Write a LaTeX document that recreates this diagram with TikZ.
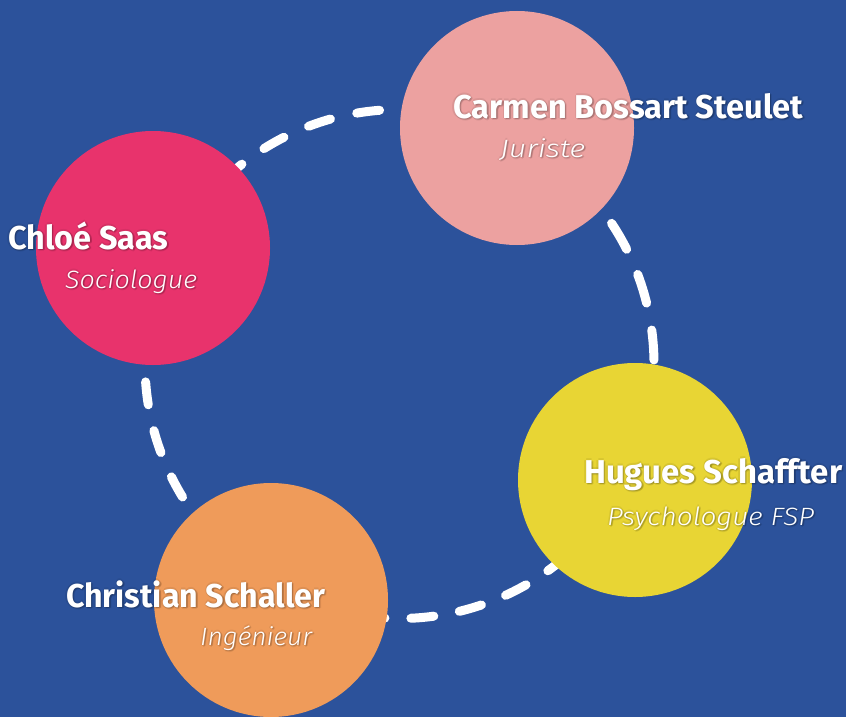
\documentclass[tikz,border=0pt]{standalone}
\usepackage{fontspec}
\setmainfont{Fira Sans}[BoldFont={Fira Sans Bold},ItalicFont={Fira Sans Light Italic}]
\usepackage{graphicx}
\definecolor{bg}{HTML}{2C529B}
\definecolor{cpink}{HTML}{E8336C}
\definecolor{csalmon}{HTML}{ECA1A0}
\definecolor{cyellow}{HTML}{E8D534}
\definecolor{corange}{HTML}{EF9B5A}
\newcommand{\fitw}[2]{\resizebox{#1}{\height}{#2}}
% \plabel{name}{style}{position}{width}{text}: soft dark glow, then the white text
\newcommand{\plabel}[5]{%
  \foreach \dx/\dy in {-1.5/0,1.5/0,0/-1.5,0/1.5,1/2,2/1,1.5/1.5}{%
    \node[#2, shadowlbl] at ($#3+(\dx,\dy)$) {\fitw{#4}{#5}};}
  \node[#2] (#1) at #3 {\fitw{#4}{#5}};}
\usetikzlibrary{calc}
\tikzset{
  person/.style={circle, minimum size=234pt, inner sep=0pt},
  namelbl/.style={text=white, inner sep=0pt, anchor=base west, font=\bfseries\fontsize{33}{36}\selectfont},
  rolelbl/.style={text=white, inner sep=0pt, anchor=base west, font=\itshape\fontsize{25}{28}\selectfont},
  shadowlbl/.style={text=black, opacity=0.07},
  ring/.style={white, line width=9pt, line cap=round}
}
\begin{document}
\begin{tikzpicture}[x=1pt,y=-1pt]
\fill[bg] (0,0) rectangle (846,717);
\useasboundingbox (0,0) rectangle (846,717);
\coordinate (ringc) at (399.5,364);
% dashed ring, drawn as four arcs
\draw[ring, dash pattern=on 23pt off 27pt]
  (ringc) ++(133.44:254.5pt) arc[start angle=133.44, end angle=80, radius=254.5pt];
\draw[ring, dash pattern=on 30pt off 27.5pt]
  (ringc) ++(46.5:254.5pt) arc[start angle=46.5, end angle=-5, radius=254.5pt];
\draw[ring, dash pattern=on 23pt off 26pt]
  (ringc) ++(-49.16:254.5pt) arc[start angle=-49.16, end angle=-100, radius=254.5pt];
\draw[ring, dash pattern=on 23pt off 26.5pt]
  (ringc) ++(-137.35:254.5pt) arc[start angle=-137.35, end angle=-190, radius=254.5pt];
% circles
\node[person, fill=cpink] (chloe) at (153,248) {};
\node[person, fill=csalmon] (carmen) at (517,128) {};
\node[person, fill=cyellow] (hugues) at (635,480) {};
\node[person, fill=corange] (christian) at (271,600) {};
% labels
\plabel{chloeN}{namelbl}{(8,249)}{160pt}{Chloé Saas}
\plabel{chloeR}{rolelbl}{(65,288)}{132pt}{Sociologue}
\plabel{carmenN}{namelbl}{(453,118)}{350pt}{Carmen Bossart Steulet}
\plabel{carmenR}{rolelbl}{(500,157)}{85pt}{Juriste}
\plabel{huguesN}{namelbl}{(584,483)}{258pt}{Hugues Schaffter}
\plabel{huguesR}{rolelbl}{(607,525)}{207pt}{Psychologue FSP}
\plabel{christianN}{namelbl}{(66,607)}{259pt}{Christian Schaller}
\plabel{christianR}{rolelbl}{(200,645)}{112pt}{Ingénieur}
\end{tikzpicture}
\end{document}
